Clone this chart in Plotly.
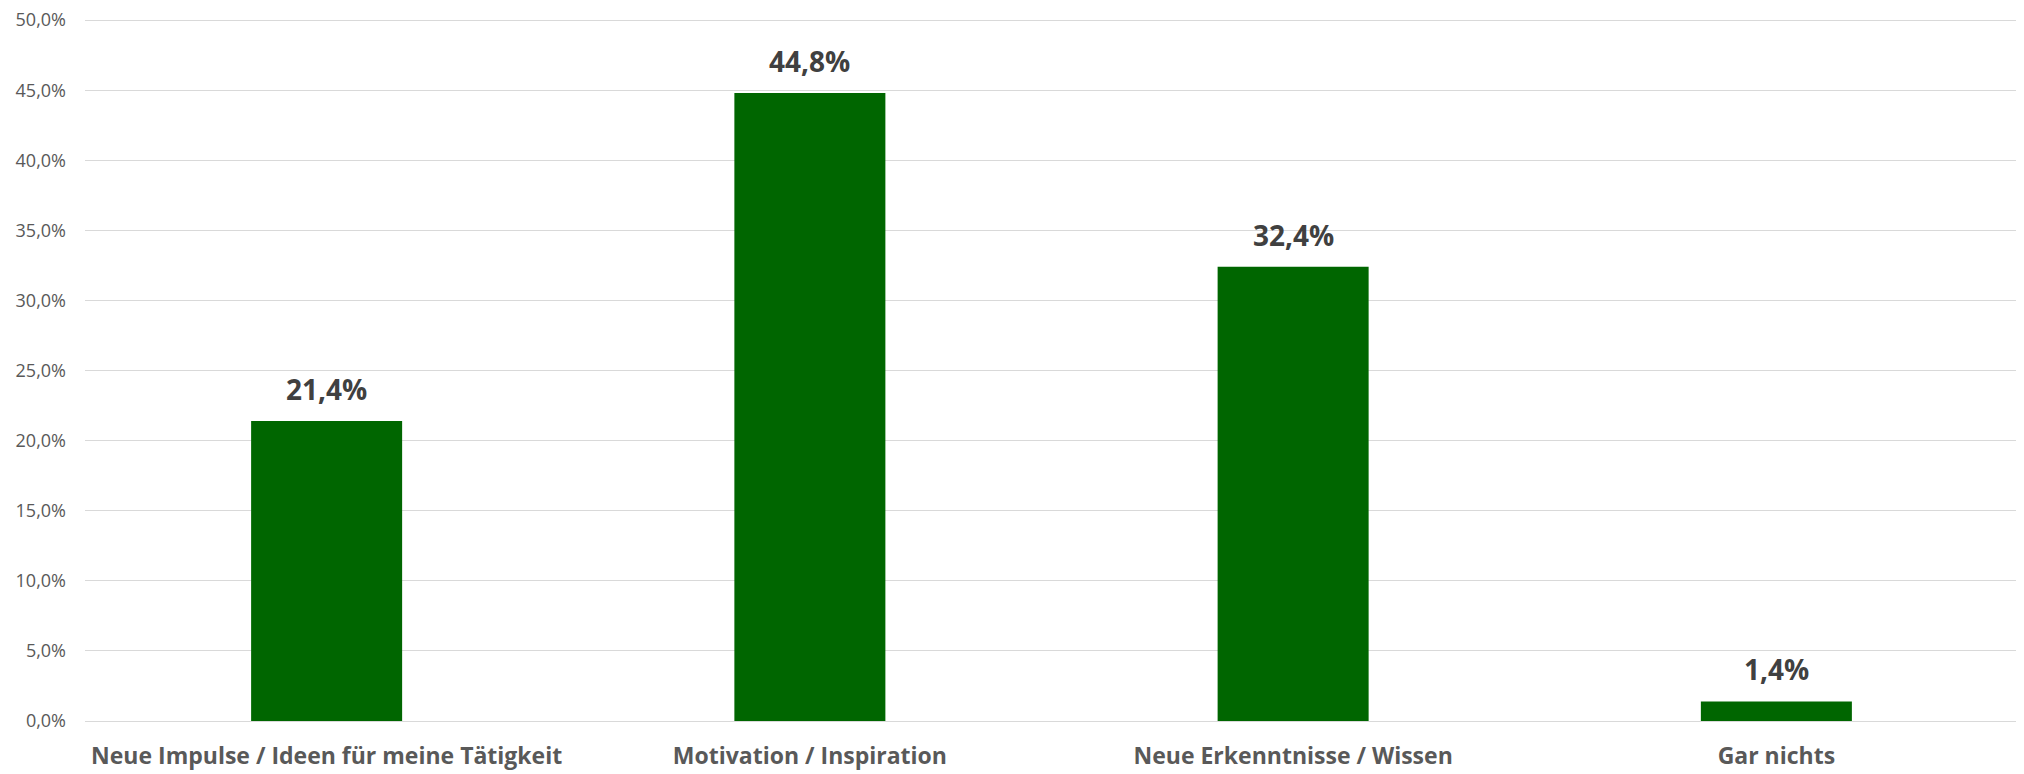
import plotly.graph_objects as go

categories = ["Neue Impulse / Ideen für meine Tätigkeit", "Motivation / Inspiration",
              "Neue Erkenntnisse / Wissen", "Gar nichts"]
values = [21.4, 44.8, 32.4, 1.4]
y_ticks = [0, 5, 10, 15, 20, 25, 30, 35, 40, 45, 50]
y_ticklabels = [f"{t:.1f}%".replace(".", ",") for t in y_ticks]

BAR_COLOR = "#006600"
GRID = "#d9d9d9"
FONT = "Open Sans"

fig = go.Figure(go.Bar(x=categories, y=values, marker=dict(color=BAR_COLOR, line=dict(width=0)),
                       hoverinfo="skip"))

for c, v in zip(categories, values):
    fig.add_annotation(x=c, y=v, text=f"<b>{v:.1f}%</b>".replace(".", ","), showarrow=False,
                       yanchor="bottom", yshift=11,
                       font=dict(family=FONT, size=28, color="#404040"))

fig.update_layout(
    width=2016, height=766,
    margin=dict(l=77, r=6, t=11, b=53, pad=0),
    plot_bgcolor="white", paper_bgcolor="white",
    bargap=0.6875,
    showlegend=False,
    font=dict(family=FONT),
)
fig.update_xaxes(
    showgrid=False, showline=False, zeroline=False, automargin=False,
    tickfont=dict(family=FONT, size=23, color="#595959", weight="bold"),
    ticks="", ticklabelstandoff=19,
)
fig.update_yaxes(
    range=[0, 50.08], tickvals=y_ticks, ticktext=y_ticklabels, automargin=False,
    showgrid=True, gridcolor=GRID, gridwidth=1.3,
    zeroline=True, zerolinecolor=GRID, zerolinewidth=1.3,
    showline=False, ticks="", ticklabelstandoff=18, ticklabeloverflow="allow",
    tickfont=dict(family=FONT, size=18, color="#595959"),
)

fig.write_html("out.html")
